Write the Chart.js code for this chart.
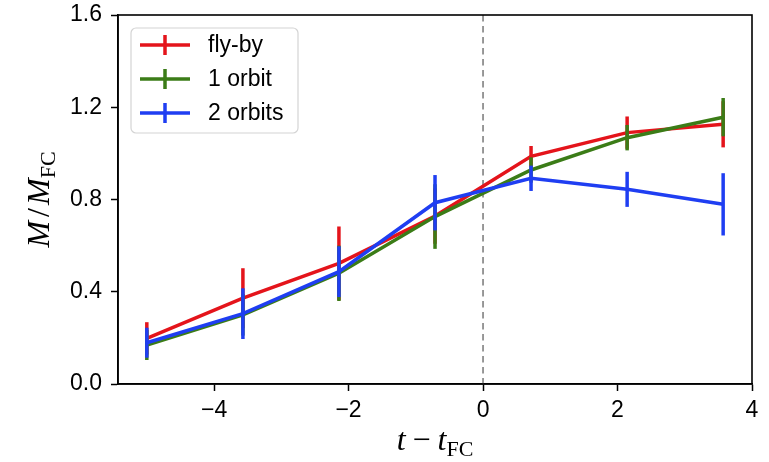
<!DOCTYPE html>
<html>
<head>
<meta charset="utf-8">
<script src="https://cdn.jsdelivr.net/npm/chart.js@4.4.1/dist/chart.umd.min.js"></script>
<style>
  body { margin: 0; background: #fff; }
  #wrap { width: 769px; height: 462px; }
</style>
</head>
<body>
<div id="wrap"><canvas id="massChart" width="769" height="462"></canvas></div>
<script>
// time relative to first crossing, one entry per snapshot
const tValues = [-5.0, -3.571, -2.143, -0.714, 0.714, 2.143, 3.571];

const flybyMass = [0.198, 0.372, 0.523, 0.728, 0.987, 1.090, 1.126];
const flybyErr = [0.07, 0.13, 0.16, 0.12, 0.045, 0.07, 0.10];

const orbit1Mass = [0.169, 0.300, 0.480, 0.726, 0.928, 1.068, 1.157];
const orbit1Err = [0.065, 0.09, 0.12, 0.14, 0.055, 0.055, 0.083];

const orbit2Mass = [0.179, 0.305, 0.487, 0.786, 0.892, 0.844, 0.779];
const orbit2Err = [0.065, 0.11, 0.11, 0.12, 0.055, 0.076, 0.135];

const seriesNames = ['fly-by', '1 orbit', '2 orbits'];
const seriesColors = ['#e4141b', '#3b7c17', '#1f3ef2'];

const xTicks = [-4, -2, 0, 2, 4];
const yTicks = [0, 0.4, 0.8, 1.2, 1.6];

const tickFont = { family: 'Liberation Sans, Arial, sans-serif', size: 23 };

function toPoints(ys) {
  return tValues.map((t, i) => ({ x: t, y: ys[i] }));
}

function fmtMinus(v) {
  return v < 0 ? '\u2212' + Math.abs(v) : String(v);
}

// vertical error bars (no caps), drawn right after each dataset's line
const errorBars = {
  id: 'errorBars',
  afterDatasetDraw(chart, args) {
    const ds = chart.data.datasets[args.index];
    if (!ds.errors) return;
    const { x, y } = chart.scales;
    const ctx = chart.ctx;
    ctx.save();
    ctx.strokeStyle = ds.borderColor;
    ctx.lineWidth = 3.5;
    ds.data.forEach((p, i) => {
      const e = ds.errors[i];
      const px = x.getPixelForValue(p.x);
      ctx.beginPath();
      ctx.moveTo(px, y.getPixelForValue(p.y - e));
      ctx.lineTo(px, y.getPixelForValue(p.y + e));
      ctx.stroke();
    });
    ctx.restore();
  }
};

// dashed marker at t = t_FC
const zeroLine = {
  id: 'zeroLine',
  beforeDatasetsDraw(chart) {
    const { ctx, chartArea } = chart;
    const px = chart.scales.x.getPixelForValue(0);
    ctx.save();
    ctx.strokeStyle = '#808080';
    ctx.lineWidth = 1.6;
    ctx.setLineDash([6.5, 4.5]);
    ctx.beginPath();
    ctx.moveTo(px, chartArea.top);
    ctx.lineTo(px, chartArea.bottom);
    ctx.stroke();
    ctx.restore();
  }
};

// full box around the axes, legend and the two math axis titles
const frameAndLabels = {
  id: 'frameAndLabels',
  afterDatasetsDraw(chart) {
    const { ctx, chartArea: a } = chart;
    ctx.save();
    ctx.strokeStyle = '#000';
    ctx.lineWidth = 1.6;
    ctx.strokeRect(a.left, a.top, a.right - a.left, a.bottom - a.top);

    // legend box
    const bx = 131, by = 28, bw = 167, bh = 105, r = 5;
    ctx.beginPath();
    ctx.moveTo(bx + r, by);
    ctx.arcTo(bx + bw, by, bx + bw, by + bh, r);
    ctx.arcTo(bx + bw, by + bh, bx, by + bh, r);
    ctx.arcTo(bx, by + bh, bx, by, r);
    ctx.arcTo(bx, by, bx + bw, by, r);
    ctx.closePath();
    ctx.fillStyle = 'rgba(255,255,255,0.85)';
    ctx.fill();
    ctx.strokeStyle = '#d4d4d4';
    ctx.lineWidth = 1.2;
    ctx.stroke();

    ctx.font = '23px Liberation Sans, Arial, sans-serif';
    ctx.textBaseline = 'middle';
    ctx.textAlign = 'left';
    seriesNames.forEach((name, i) => {
      const ry = 45 + i * 34;
      ctx.strokeStyle = seriesColors[i];
      ctx.lineWidth = 3.5;
      ctx.beginPath();
      ctx.moveTo(140, ry);
      ctx.lineTo(190, ry);
      ctx.moveTo(165, ry - 10);
      ctx.lineTo(165, ry + 10);
      ctx.stroke();
      ctx.fillStyle = '#000';
      ctx.fillText(name, 208, ry + 1);
    });

    // x title: t - t_FC
    const serifIt = 'italic 32px Liberation Serif, DejaVu Serif, serif';
    const serifRm = '32px Liberation Serif, DejaVu Serif, serif';
    const subRm = '22px Liberation Serif, DejaVu Serif, serif';
    const parts = [
      { s: 't', f: serifIt, dy: 0, gap: 7 },
      { s: '\u2212', f: serifRm, dy: 0, gap: 7 },
      { s: 't', f: serifIt, dy: 0, gap: 0 },
      { s: 'FC', f: subRm, dy: 6, gap: 0 }
    ];
    function drawParts(list, cx, baseY) {
      let w = 0;
      list.forEach(p => { ctx.font = p.f; w += ctx.measureText(p.s).width + p.gap; });
      let cur = cx - w / 2;
      ctx.textBaseline = 'alphabetic';
      list.forEach(p => {
        ctx.font = p.f;
        ctx.fillText(p.s, cur, baseY + p.dy);
        cur += ctx.measureText(p.s).width + p.gap;
      });
    }
    ctx.fillStyle = '#000';
    drawParts(parts, (a.left + a.right) / 2, 450);

    // y title: M / M_FC, rotated
    ctx.save();
    ctx.translate(49, (a.top + a.bottom) / 2);
    ctx.rotate(-Math.PI / 2);
    drawParts([
      { s: 'M', f: serifIt, dy: 0, gap: 4 },
      { s: '/', f: serifRm, dy: 0, gap: 3 },
      { s: 'M', f: serifIt, dy: 0, gap: 0 },
      { s: 'FC', f: subRm, dy: 6, gap: 0 }
    ], 0, 0);
    ctx.restore();
    ctx.restore();
  }
};

const datasets = [flybyMass, orbit1Mass, orbit2Mass].map((vals, i) => ({
  label: seriesNames[i],
  data: toPoints(vals),
  errors: [flybyErr, orbit1Err, orbit2Err][i],
  borderColor: seriesColors[i],
  backgroundColor: seriesColors[i],
  borderWidth: 3.5,
  pointRadius: 0,
  tension: 0,
  fill: false,
  order: 3 - i
}));

// the tick labels may hang past the plot box; keep the box fixed
function noOverhang(scale) {
  scale.paddingTop = 0;
  scale.paddingBottom = 0;
  scale.paddingLeft = 0;
  scale.paddingRight = 0;
}

new Chart(document.getElementById('massChart'), {
  type: 'line',
  data: { datasets },
  options: {
    responsive: false,
    animation: false,
    layout: { padding: { left: 0, top: 15, right: 17, bottom: 0 } },
    plugins: { legend: { display: false }, tooltip: { enabled: false } },
    scales: {
      x: {
        type: 'linear',
        min: -5.4286,
        max: 4.0,
        afterBuildTicks(scale) { scale.ticks = xTicks.map(v => ({ value: v })); },
        afterFit(scale) { scale.height = 78; noOverhang(scale); },
        ticks: { font: tickFont, color: '#000', padding: 6, maxRotation: 0, callback: v => fmtMinus(v) },
        grid: { drawOnChartArea: false, drawTicks: true, tickLength: 7, tickWidth: 1.5, tickColor: '#000' },
        border: { display: true, color: '#000', width: 1.6 }
      },
      y: {
        min: 0,
        max: 1.6,
        afterBuildTicks(scale) { scale.ticks = yTicks.map(v => ({ value: v })); },
        afterFit(scale) { scale.width = 118; noOverhang(scale); },
        ticks: { font: tickFont, color: '#000', padding: 9, callback: v => v.toFixed(1) },
        grid: { drawOnChartArea: false, drawTicks: true, tickLength: 7, tickWidth: 1.5, tickColor: '#000' },
        border: { display: true, color: '#000', width: 1.6 }
      }
    }
  },
  plugins: [errorBars, zeroLine, frameAndLabels]
});
</script>
</body>
</html>
